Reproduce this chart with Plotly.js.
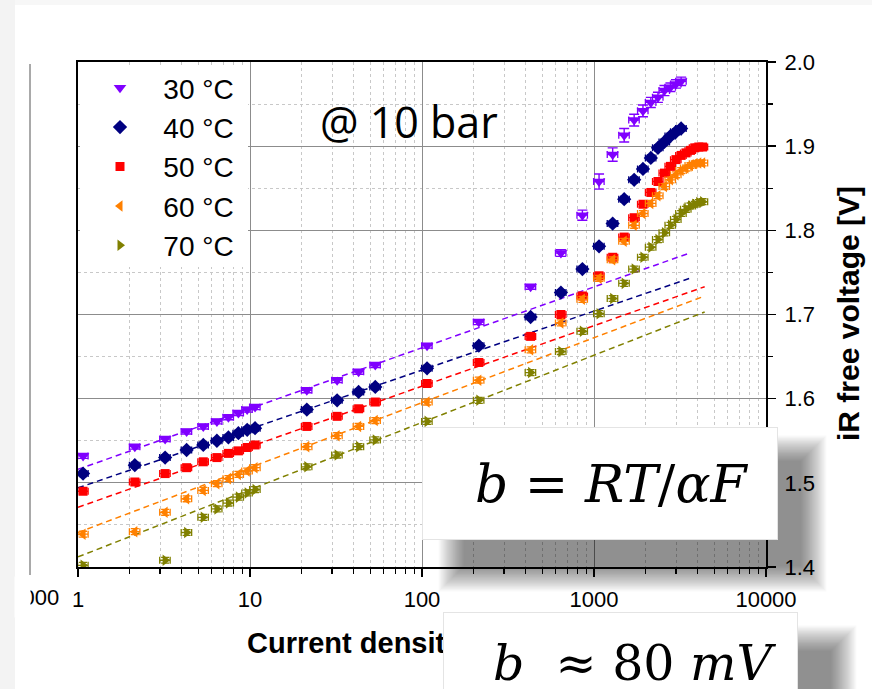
<!DOCTYPE html>
<html>
<head>
<meta charset="utf-8">
<script src="https://cdn.plot.ly/plotly-3.0.1.min.js"></script>
<style>html,body{margin:0;padding:0;background:#fff;}#chart{width:872px;height:689px;}</style>
</head>
<body>
<div id="chart"></div>
<script>
// ---------- data ----------
const seriesNames = ["30 °C", "40 °C", "50 °C", "60 °C", "70 °C"];

const x30 = [1.07, 2.14, 3.21, 4.28, 5.35, 6.42, 7.49, 8.56, 9.63, 10.7, 21.4, 32.1, 42.8, 53.5, 107, 214, 428, 642, 856, 1070, 1284, 1498, 1712, 1926, 2140, 2354, 2568, 2782, 2996, 3210];
const y30 = [1.532, 1.543, 1.552, 1.561, 1.567, 1.573, 1.578, 1.583, 1.587, 1.590, 1.610, 1.622, 1.632, 1.640, 1.663, 1.691, 1.733, 1.773, 1.818, 1.858, 1.890, 1.913, 1.931, 1.942, 1.952, 1.958, 1.966, 1.970, 1.974, 1.977];
const e30 = [0.003, 0.003, 0.003, 0.003, 0.003, 0.003, 0.003, 0.003, 0.003, 0.003, 0.003, 0.003, 0.003, 0.003, 0.003, 0.003, 0.003, 0.004, 0.006, 0.009, 0.008, 0.008, 0.007, 0.007, 0.006, 0.006, 0.006, 0.005, 0.005, 0.005];

const x40 = [1.07, 2.14, 3.21, 4.28, 5.35, 6.42, 7.49, 8.56, 9.63, 10.7, 21.4, 32.1, 42.8, 53.5, 107, 214, 428, 642, 856, 1070, 1284, 1498, 1712, 1926, 2140, 2354, 2568, 2782, 2996, 3210];
const y40 = [1.511, 1.521, 1.530, 1.539, 1.545, 1.550, 1.554, 1.559, 1.563, 1.565, 1.587, 1.598, 1.608, 1.614, 1.636, 1.663, 1.697, 1.726, 1.754, 1.781, 1.808, 1.837, 1.860, 1.873, 1.886, 1.898, 1.905, 1.912, 1.917, 1.921];

const x50 = [1.07, 2.14, 3.21, 4.28, 5.35, 6.42, 7.49, 8.56, 9.63, 10.7, 21.4, 32.1, 42.8, 53.5, 107, 214, 428, 642, 856, 1070, 1284, 1498, 1712, 1926, 2140, 2354, 2568, 2782, 2996, 3210, 3424, 3638, 3852, 4066, 4280];
const y50 = [1.490, 1.501, 1.511, 1.518, 1.525, 1.530, 1.535, 1.538, 1.542, 1.545, 1.567, 1.579, 1.588, 1.596, 1.618, 1.643, 1.674, 1.700, 1.722, 1.746, 1.768, 1.792, 1.815, 1.831, 1.845, 1.858, 1.868, 1.876, 1.884, 1.889, 1.892, 1.895, 1.898, 1.899, 1.899];

const x60 = [1.07, 2.14, 3.21, 4.28, 5.35, 6.42, 7.49, 8.56, 9.63, 10.7, 21.4, 32.1, 42.8, 53.5, 107, 214, 428, 642, 856, 1070, 1284, 1498, 1712, 1926, 2140, 2354, 2568, 2782, 2996, 3210, 3424, 3638, 3852, 4066, 4280];
const y60 = [1.439, 1.442, 1.465, 1.481, 1.491, 1.499, 1.505, 1.510, 1.514, 1.518, 1.543, 1.556, 1.567, 1.574, 1.596, 1.622, 1.658, 1.690, 1.718, 1.743, 1.765, 1.787, 1.806, 1.820, 1.832, 1.841, 1.852, 1.860, 1.866, 1.871, 1.874, 1.877, 1.879, 1.880, 1.880];

const x70 = [1.07, 3.21, 4.28, 5.35, 6.42, 7.49, 8.56, 9.63, 10.7, 21.4, 32.1, 42.8, 53.5, 107, 214, 428, 642, 856, 1070, 1284, 1498, 1712, 1926, 2140, 2354, 2568, 2782, 2996, 3210, 3424, 3638, 3852, 4066, 4280];
const y70 = [1.402, 1.408, 1.441, 1.459, 1.469, 1.476, 1.483, 1.488, 1.492, 1.519, 1.533, 1.543, 1.551, 1.573, 1.598, 1.631, 1.656, 1.680, 1.701, 1.719, 1.737, 1.754, 1.768, 1.780, 1.789, 1.797, 1.806, 1.813, 1.820, 1.825, 1.829, 1.831, 1.833, 1.834];

// Tafel fit lines (end points)
const fitX30 = [1, 3600], fitY30 = [1.516, 1.773];
const fitX40 = [1, 3600], fitY40 = [1.494, 1.743];
const fitX50 = [1, 4400], fitY50 = [1.471, 1.733];
const fitX60 = [1, 4400], fitY60 = [1.441, 1.722];
const fitX70 = [1, 4400], fitY70 = [1.412, 1.703];

const xTickVals = [1, 10, 100, 1000, 10000];
const xTickText = ["1", "10", "100", "1000", "10000"];
const yTickVals = [1.4, 1.5, 1.6, 1.7, 1.8, 1.9, 2.0];
const yTickText = ["1.4", "1.5", "1.6", "1.7", "1.8", "1.9", "2.0"];

const xTitle = "Current density [mA/cm²]";
const yTitle = "iR free voltage [V]";
const noteText = "@ 10 bar";
const formula1 = "<i>b</i> = <i>RT</i>/<i>αF</i>";
const formula2 = "<i>b</i>\u00a0\u00a0≈ 80 <i>mV</i>";

// ---------- styling ----------
const colors = ["#8000ff", "#000080", "#ff0000", "#ff8000", "#808000"];
const symbols = ["triangle-down", "diamond", "square", "triangle-left", "triangle-right"];
const sizes = [11, 11, 9, 10, 10];
const SANS = "Liberation Sans, Arial, sans-serif";

const L = 78, R = 766, T = 62, B = 567;
const PX = p => (p - L) / (R - L);
const PY = p => (B - p) / (B - T);

const dataX = [x30, x40, x50, x60, x70];
const dataY = [y30, y40, y50, y60, y70];
const fitsX = [fitX30, fitX40, fitX50, fitX60, fitX70];
const fitsY = [fitY30, fitY40, fitY50, fitY60, fitY70];

const traces = [];
for (let i = 0; i < 5; i++) {
  traces.push({
    x: fitsX[i], y: fitsY[i], type: "scatter", mode: "lines",
    line: {color: colors[i], width: 1.5, dash: "6px,4px"},
    showlegend: false, hoverinfo: "skip"
  });
}
for (let i = 0; i < 5; i++) {
  traces.push({
    x: dataX[i], y: dataY[i], type: "scatter", mode: "markers",
    name: "\u00a0\u00a0\u00a0" + seriesNames[i],
    marker: {symbol: symbols[i], color: colors[i], size: sizes[i], line: {width: 0}},
    error_x: {type: "percent", value: 7, color: colors[i], thickness: 1.3, width: 3.5},
    error_y: i === 0
      ? {type: "data", array: e30, color: colors[i], thickness: 1.4, width: 5}
      : {type: "constant", value: 0.0035, color: colors[i], thickness: 1.3, width: 4}
  });
}

// shapes
const shapes = [];
shapes.push({type: "rect", xref: "paper", yref: "paper", x0: PX(0), x1: PX(15), y0: PY(0), y1: PY(689), fillcolor: "#f3f3f3", line: {width: 0}, layer: "above"});
shapes.push({type: "rect", xref: "paper", yref: "paper", x0: PX(15), x1: PX(872), y0: PY(0), y1: PY(5), fillcolor: "#f7f7f7", line: {width: 0}, layer: "above"});
shapes.push({type: "line", xref: "paper", yref: "paper", x0: PX(30), x1: PX(30), y0: PY(64), y1: PY(575), line: {color: "#555", width: 1}, layer: "above"});
// legend backdrop
shapes.push({type: "rect", xref: "paper", yref: "paper", x0: PX(80), x1: PX(248), y0: PY(66), y1: PY(267), fillcolor: "#ffffff", line: {width: 0}, layer: "above"});
// soft shadows (stacked translucent layers)
function shadow(x0, y0, x1, y1) {
  for (let k = 22; k >= 1; k--) {
    const g = k * 1.2;
    shapes.push({type: "rect", xref: "paper", yref: "paper",
      x0: PX(x0 - g), x1: PX(x1 + g), y0: PY(y0 - g), y1: PY(y1 + g),
      fillcolor: "rgba(0,0,0,0.023)", line: {width: 0}, layer: "above"});
  }
}
shadow(465, 462, 800, 565);
shadow(484, 652, 830, 740);

const annotations = [
  {xref: "paper", yref: "paper", x: PX(245), y: PY(643), xanchor: "left", yanchor: "middle",
   text: "<b>" + xTitle + "</b>", showarrow: false, font: {family: SANS, size: 29, color: "#000"}},
  {xref: "paper", yref: "paper", x: PX(848), y: PY(314), xanchor: "center", yanchor: "middle",
   text: "<b>" + yTitle + "</b>", textangle: -90, showarrow: false, font: {family: SANS, size: 30, color: "#000"}},
  {xref: "paper", yref: "paper", x: PX(61), y: PY(597), xanchor: "right", yanchor: "middle",
   text: "10000", showarrow: false, font: {family: SANS, size: 22, color: "#000"}},
  {xref: "paper", yref: "paper", x: PX(7.5), y: PY(597), xanchor: "center", yanchor: "middle",
   text: " ", width: 15, height: 40, bgcolor: "#f3f3f3", borderpad: 0, showarrow: false},
  {xref: "paper", yref: "paper", x: PX(22.2), y: PY(597), xanchor: "center", yanchor: "middle",
   text: " ", width: 14.5, height: 40, bgcolor: "#ffffff", borderpad: 0, showarrow: false},
  {xref: "paper", yref: "paper", x: PX(409), y: PY(121), xanchor: "center", yanchor: "middle",
   text: noteText, showarrow: false, font: {family: "Open Sans, sans-serif", size: 43, color: "#000"}},
  {xref: "paper", yref: "paper", x: PX(600), y: PY(483.5), xanchor: "center", yanchor: "middle",
   text: " ", width: 354, height: 111, bgcolor: "#ffffff", bordercolor: "#e4e4e4", borderwidth: 1, borderpad: 0, showarrow: false},
  {xref: "paper", yref: "paper", x: PX(620.5), y: PY(662), xanchor: "center", yanchor: "middle",
   text: " ", width: 353, height: 98, bgcolor: "#ffffff", bordercolor: "#e4e4e4", borderwidth: 1, borderpad: 0, showarrow: false},
  {xref: "paper", yref: "paper", x: PX(612), y: PY(484), xanchor: "center", yanchor: "middle",
   text: formula1, showarrow: false, font: {family: "DejaVu Serif, serif", size: 52, color: "#000"}},
  {xref: "paper", yref: "paper", x: PX(635), y: PY(663), xanchor: "center", yanchor: "middle",
   text: formula2, showarrow: false, font: {family: "DejaVu Serif, serif", size: 49, color: "#000"}}
];

const layout = {
  width: 872, height: 689,
  margin: {l: L, r: 872 - R, t: T, b: 689 - B, pad: 0},
  paper_bgcolor: "#ffffff", plot_bgcolor: "#ffffff",
  font: {family: SANS, size: 22, color: "#000"},
  showlegend: true,
  legend: {x: PX(100), xanchor: "left", y: PY(63), yanchor: "top",
    bgcolor: "rgba(0,0,0,0)", borderwidth: 0,
    font: {family: SANS, size: 28, color: "#000"}, tracegroupgap: 0},
  xaxis: {
    type: "log", range: [0, 4],
    tickmode: "array", tickvals: xTickVals, ticktext: xTickText,
    ticks: "outside", ticklen: 8, tickwidth: 1.5, tickcolor: "#000",
    tickfont: {family: SANS, size: 22, color: "#000"}, ticklabelstandoff: 4,
    showline: true, linecolor: "#000", linewidth: 2, mirror: true,
    showgrid: true, gridcolor: "#8c8c8c", gridwidth: 1,
    minor: {dtick: "D1", ticks: "outside", ticklen: 5, tickwidth: 1.2, tickcolor: "#000",
      showgrid: true, gridcolor: "#c8c8c8", gridwidth: 1, griddash: "3px,3px"},
    zeroline: false
  },
  yaxis: {
    side: "right", range: [1.4, 2.0],
    tickmode: "array", tickvals: yTickVals, ticktext: yTickText,
    ticks: "outside", ticklen: 8, tickwidth: 1.5, tickcolor: "#000",
    tickfont: {family: SANS, size: 22, color: "#000"}, ticklabelstandoff: 4,
    showline: true, linecolor: "#000", linewidth: 2, mirror: true,
    showgrid: true, gridcolor: "#8c8c8c", gridwidth: 1,
    minor: {dtick: 0.05, tick0: 1.4, ticks: "outside", ticklen: 5, tickwidth: 1.2, tickcolor: "#000",
      showgrid: true, gridcolor: "#c8c8c8", gridwidth: 1, griddash: "3px,3px"},
    zeroline: false
  },
  shapes: shapes,
  annotations: annotations
};

Plotly.newPlot("chart", traces, layout, {displayModeBar: false, staticPlot: true});
</script>
</body>
</html>
